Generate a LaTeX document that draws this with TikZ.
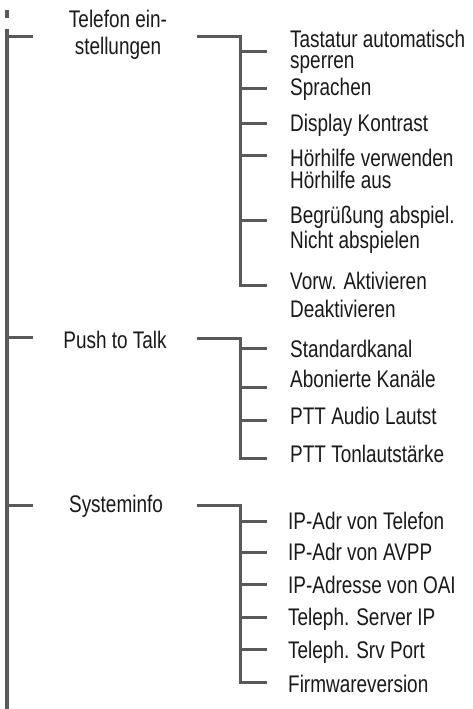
\documentclass[tikz,border=0pt]{standalone}
\usepackage{fontspec}
\setmainfont{Liberation Sans}[FakeStretch=0.79]
\usetikzlibrary{positioning, calc}

\begin{document}
\begin{tikzpicture}[x=1pt, y=-1pt]
    \tikzset{
		line/.style={draw=black!65, line width=3pt},
		trunk/.style={draw=black!65, line width=3.6pt},
		menu/.style={inner sep=0pt, anchor=base, align=center, text=black!90, font=\fontsize{24}{27}\selectfont},
		item/.style={inner sep=0pt, anchor=base west, align=left, text=black!90, font=\fontsize{24}{21.5}\selectfont}
	}
	\useasboundingbox (0,0) rectangle (472,709);

	% --- Hauptlinie ---
	\coordinate (stub_top) at (7,10);
	\coordinate (stub_bot) at (7,18);
	\coordinate (trunk_top) at (7,29);
	\coordinate (trunk_bot) at (7,709);
	\draw [trunk] (stub_top) -- (stub_bot);
	\draw [trunk] (trunk_top) -- (trunk_bot);

	% --- Menüs (Grundlinie der letzten Zeile) ---
	\node [menu] (tel) at (118,55) {Telefon ein-\\stellungen};
	\node [menu] (ptt) at (115,348) {Push to Talk};
	\node [menu] (sys) at (116,512) {Systeminfo};

	% --- Telefon einstellungen ---
	\coordinate (tel_l) at (7,37);
	\coordinate (tel_r) at (197,37);
	\coordinate (tel_v) at (240,37);
	\draw [line] (tel_l) -- ++(26,0);
	\foreach \i/\yb/\yt/\txt in {1/52/69/{Tastatur automatisch\\sperren},
	                             2/88/95/{Sprachen},
	                             3/123/131/{Display Kontrast},
	                             4/155/188/{Hörhilfe verwenden\\Hörhilfe aus},
	                             5/220/248/{Begrüßung abspiel.\\[1.5pt]Nicht abspielen},
	                             6/285/317/{Vorw. Aktivieren\\[6pt]Deaktivieren}} {
		\node [item] (tel\i) at (290,\yt) {\txt};
		\coordinate (tel_b\i) at (267,\yb);
		\draw [line] (tel_v |- tel_b\i) -- (tel_b\i);
	}
	\draw [line] (tel_r) -- (tel_v) |- (tel_b6);

	% --- Push to Talk ---
	\coordinate (ptt_l) at (7,337);
	\coordinate (ptt_r) at (197,338);
	\coordinate (ptt_v) at (240,338);
	\draw [line] (ptt_l) -- ++(26,0);
	\foreach \i/\yb/\yt/\txt in {1/348/357/{Standardkanal},
	                             2/387/387/{Abonierte Kanäle},
	                             3/420/424/{PTT Audio Lautst},
	                             4/458/462/{PTT Tonlautstärke}} {
		\node [item] (ptt\i) at (290,\yt) {\txt};
		\coordinate (ptt_b\i) at (267,\yb);
		\draw [line] (ptt_v |- ptt_b\i) -- (ptt_b\i);
	}
	\draw [line] (ptt_r) -- (ptt_v) |- (ptt_b4);

	% --- Systeminfo ---
	\coordinate (sys_l) at (7,505);
	\coordinate (sys_r) at (197,505);
	\coordinate (sys_v) at (240,505);
	\draw [line] (sys_l) -- ++(26,0);
	\foreach \i/\yb/\yt/\txt in {1/521/529/{IP-Adr von Telefon},
	                             2/552/560/{IP-Adr von AVPP},
	                             3/584/593/{IP-Adresse von OAI},
	                             4/617/625/{Teleph. Server IP},
	                             5/649/658/{Teleph. Srv Port},
	                             6/682/692/{Firmwareversion}} {
		\node [item] (sys\i) at (288,\yt) {\txt};
		\coordinate (sys_b\i) at (267,\yb);
		\draw [line] (sys_v |- sys_b\i) -- (sys_b\i);
	}
	\draw [line] (sys_r) -- (sys_v) |- (sys_b6);
\end{tikzpicture}
\end{document}
